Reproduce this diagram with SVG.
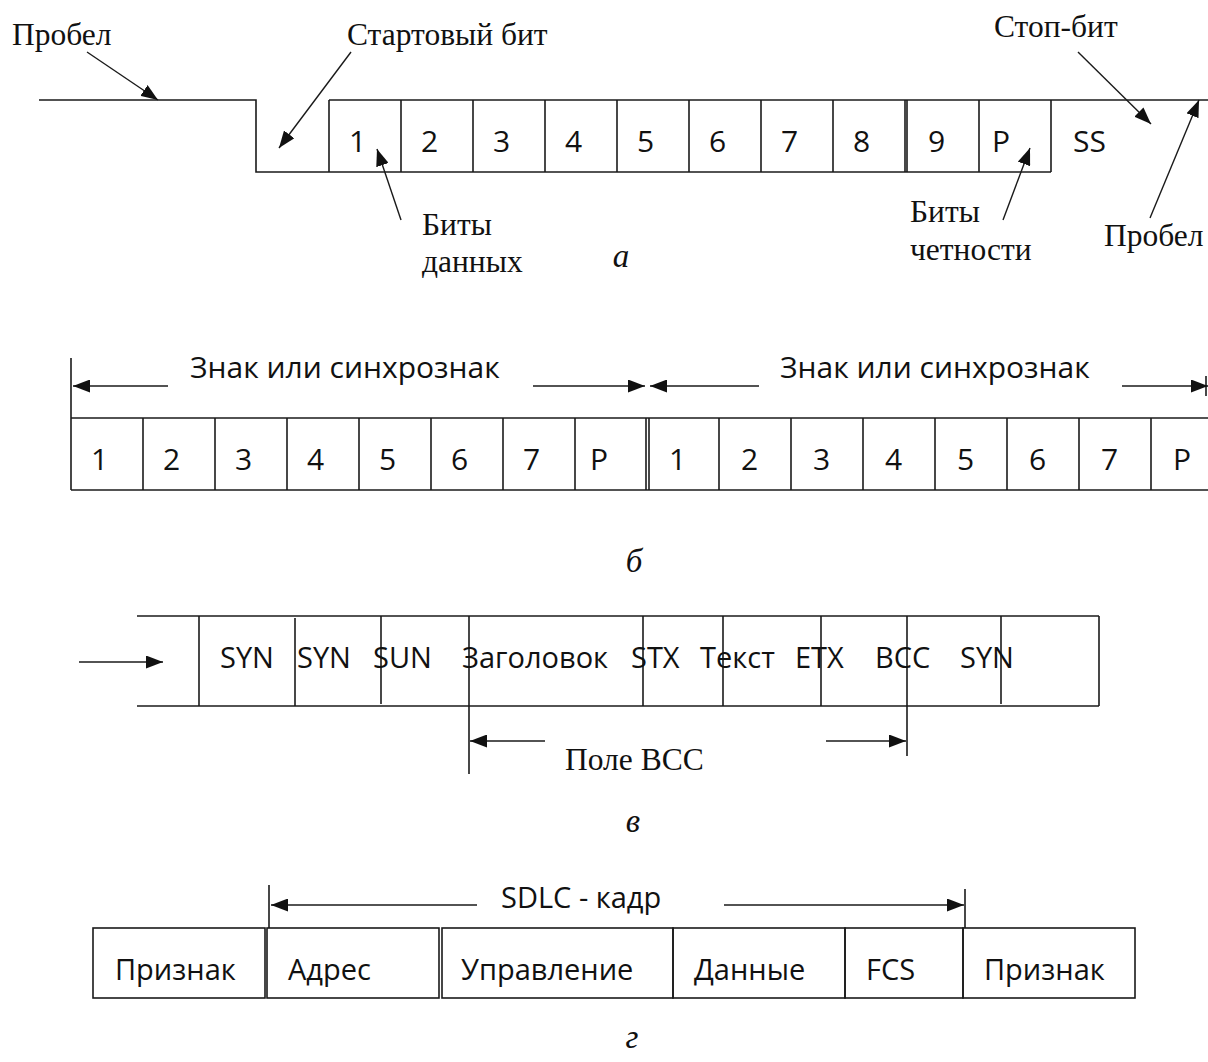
<svg xmlns="http://www.w3.org/2000/svg" width="1208" height="1062" viewBox="0 0 1208 1062">
<style>
.ln{stroke:#1a1a1a;stroke-width:1.6;fill:none}
.bx{stroke:#1a1a1a;stroke-width:1.6;fill:none}
.ar{stroke:#1a1a1a;stroke-width:1.4;fill:none;marker-end:url(#ah)}
.s{font-family:"Open Sans","Noto Sans","DejaVu Sans",sans-serif;font-size:29px;fill:#111}
.d{font-family:"Open Sans","Noto Sans","DejaVu Sans",sans-serif;font-size:30px;fill:#111}
.r{font-family:"Liberation Serif","Times New Roman",serif;font-size:31.5px;fill:#111}
.i{font-family:"Liberation Serif","Times New Roman",serif;font-size:33px;font-style:italic;fill:#111}
</style>
<defs>
<marker id="ah" markerUnits="userSpaceOnUse" markerWidth="17" markerHeight="13" refX="17" refY="6.5" orient="auto">
<path d="M0,0 L17,6.5 L0,13 z" fill="#111"/>
</marker>
</defs>
<rect width="1208" height="1062" fill="#fff"/>

<!-- Section a -->
<g id="a-signal">
<polyline class="ln" points="39,100 256,100 256,172 329,172"/>
<line class="ln" x1="329" y1="100" x2="1208" y2="100"/>
<line class="ln" x1="329" y1="172" x2="1051" y2="172"/>
<line class="ln" x1="329" y1="100" x2="329" y2="172"/>
<line class="ln" x1="401" y1="100" x2="401" y2="172"/>
<line class="ln" x1="473" y1="100" x2="473" y2="172"/>
<line class="ln" x1="545" y1="100" x2="545" y2="172"/>
<line class="ln" x1="617" y1="100" x2="617" y2="172"/>
<line class="ln" x1="689" y1="100" x2="689" y2="172"/>
<line class="ln" x1="761" y1="100" x2="761" y2="172"/>
<line class="ln" x1="833" y1="100" x2="833" y2="172"/>
<line class="ln" x1="905" y1="100" x2="905" y2="172"/>
<line class="ln" x1="907" y1="100" x2="907" y2="172"/>
<line class="ln" x1="979" y1="100" x2="979" y2="172"/>
<line class="ln" x1="1051" y1="100" x2="1051" y2="172"/>
</g>
<g id="a-bits">
<text class="d" x="349" y="152">1</text>
<text class="d" x="421" y="152">2</text>
<text class="d" x="493" y="152">3</text>
<text class="d" x="565" y="152">4</text>
<text class="d" x="637" y="152">5</text>
<text class="d" x="709" y="152">6</text>
<text class="d" x="781" y="152">7</text>
<text class="d" x="853" y="152">8</text>
<text class="d" x="928" y="152">9</text>
<text class="d" x="992" y="152">P</text>
<text class="d" x="1073" y="152">SS</text>
</g>
<g id="a-labels">
<text class="r" x="12" y="45">Пробел</text>
<text class="r" x="347" y="45">Стартовый бит</text>
<text class="r" x="994" y="37">Стоп-бит</text>
<text class="r" x="422" y="235">Биты</text>
<text class="r" x="422" y="272">данных</text>
<text class="r" x="910" y="222">Биты</text>
<text class="r" x="910" y="260">четности</text>
<text class="r" x="1104" y="246">Пробел</text>
<text class="i" x="621" y="267" text-anchor="middle">а</text>
</g>

<!-- Section b -->
<g id="b-frame">
<line class="ln" x1="71" y1="418" x2="1208" y2="418"/>
<line class="ln" x1="71" y1="490" x2="1208" y2="490"/>
<line class="ln" x1="71" y1="358" x2="71" y2="490"/>
<line class="ln" x1="143" y1="418" x2="143" y2="490"/>
<line class="ln" x1="215" y1="418" x2="215" y2="490"/>
<line class="ln" x1="287" y1="418" x2="287" y2="490"/>
<line class="ln" x1="359" y1="418" x2="359" y2="490"/>
<line class="ln" x1="431" y1="418" x2="431" y2="490"/>
<line class="ln" x1="503" y1="418" x2="503" y2="490"/>
<line class="ln" x1="575" y1="418" x2="575" y2="490"/>
<line class="ln" x1="646" y1="418" x2="646" y2="490"/>
<line class="ln" x1="649" y1="418" x2="649" y2="490"/>
<line class="ln" x1="719" y1="418" x2="719" y2="490"/>
<line class="ln" x1="791" y1="418" x2="791" y2="490"/>
<line class="ln" x1="863" y1="418" x2="863" y2="490"/>
<line class="ln" x1="935" y1="418" x2="935" y2="490"/>
<line class="ln" x1="1007" y1="418" x2="1007" y2="490"/>
<line class="ln" x1="1079" y1="418" x2="1079" y2="490"/>
<line class="ln" x1="1151" y1="418" x2="1151" y2="490"/>
<line class="ln" x1="1206" y1="376" x2="1206" y2="396"/>
</g>
<g id="b-bits">
<text class="d" x="91" y="470">1</text>
<text class="d" x="163" y="470">2</text>
<text class="d" x="235" y="470">3</text>
<text class="d" x="307" y="470">4</text>
<text class="d" x="379" y="470">5</text>
<text class="d" x="451" y="470">6</text>
<text class="d" x="523" y="470">7</text>
<text class="d" x="590" y="470">P</text>
<text class="d" x="669" y="470">1</text>
<text class="d" x="741" y="470">2</text>
<text class="d" x="813" y="470">3</text>
<text class="d" x="885" y="470">4</text>
<text class="d" x="957" y="470">5</text>
<text class="d" x="1029" y="470">6</text>
<text class="d" x="1101" y="470">7</text>
<text class="d" x="1173" y="470">P</text>
</g>
<g id="b-labels">
<text class="d" x="190" y="378">Знак или синхрознак</text>
<text class="d" x="780" y="378">Знак или синхрознак</text>
<text class="i" x="634" y="572" text-anchor="middle">б</text>
</g>

<!-- Section c -->
<g id="c-frame">
<line class="ln" x1="137" y1="616" x2="1099" y2="616"/>
<line class="ln" x1="137" y1="706" x2="1099" y2="706"/>
<line class="ln" x1="199" y1="616" x2="199" y2="706"/>
<line class="ln" x1="295" y1="618" x2="295" y2="706"/>
<line class="ln" x1="381" y1="616" x2="381" y2="704"/>
<line class="ln" x1="469" y1="616" x2="469" y2="774"/>
<line class="ln" x1="643" y1="616" x2="643" y2="706"/>
<line class="ln" x1="723" y1="616" x2="723" y2="706"/>
<line class="ln" x1="821" y1="616" x2="821" y2="706"/>
<line class="ln" x1="907" y1="616" x2="907" y2="756"/>
<line class="ln" x1="1001" y1="616" x2="1001" y2="704"/>
<line class="ln" x1="1099" y1="616" x2="1099" y2="706"/>
</g>
<g id="c-fields">
<text class="s" x="220" y="668">SYN</text>
<text class="s" x="297" y="668">SYN</text>
<text class="s" x="373" y="668">SUN</text>
<text class="s" x="462" y="668">Заголовок</text>
<text class="s" x="631" y="668">STX</text>
<text class="s" x="700" y="668">Текст</text>
<text class="s" x="795" y="668">ETX</text>
<text class="s" x="875" y="668">BCC</text>
<text class="s" x="960" y="668">SYN</text>
</g>
<g id="c-labels">
<text class="r" x="565" y="770">Поле BCC</text>
<text class="i" x="633" y="832" text-anchor="middle">в</text>
</g>

<!-- Section d -->
<g id="d-priznak1"><rect class="bx" x="93" y="928" width="172" height="70"/><text class="s" x="115" y="980">Признак</text></g>
<g id="d-adres"><rect class="bx" x="267" y="928" width="172" height="70"/><text class="s" x="288" y="980">Адрес</text></g>
<g id="d-upravlenie"><rect class="bx" x="442" y="928" width="231" height="70"/><text class="s" x="461" y="980">Управление</text></g>
<g id="d-dannye"><rect class="bx" x="673" y="928" width="172" height="70"/><text class="s" x="694" y="980">Данные</text></g>
<g id="d-fcs"><rect class="bx" x="845" y="928" width="118" height="70"/><text class="s" x="866" y="980">FCS</text></g>
<g id="d-priznak2"><rect class="bx" x="963" y="928" width="172" height="70"/><text class="s" x="984" y="980">Признак</text></g>
<g id="d-labels">
<line class="ln" x1="269" y1="885" x2="269" y2="928"/>
<line class="ln" x1="965" y1="889" x2="965" y2="928"/>
<text class="s" x="501" y="908">SDLC - кадр</text>
<text class="i" x="632" y="1048" text-anchor="middle">г</text>
</g>

<!-- Connectors -->
<g id="connectors">
<line class="ar" x1="87" y1="52" x2="158" y2="100"/>
<line class="ar" x1="351" y1="52" x2="279" y2="148"/>
<line class="ar" x1="401" y1="220" x2="377" y2="149"/>
<line class="ar" x1="1078" y1="52" x2="1151" y2="124"/>
<line class="ar" x1="1150" y1="218" x2="1199" y2="100"/>
<line class="ar" x1="1003" y1="220" x2="1030" y2="148"/>
<line class="ar" x1="168" y1="386" x2="73" y2="386"/>
<line class="ar" x1="533" y1="386" x2="645" y2="386"/>
<line class="ar" x1="759" y1="386" x2="650" y2="386"/>
<line class="ar" x1="1122" y1="386" x2="1208" y2="386"/>
<line class="ar" x1="79" y1="662" x2="163" y2="662"/>
<line class="ar" x1="545" y1="741" x2="470" y2="741"/>
<line class="ar" x1="826" y1="741" x2="906" y2="741"/>
<line class="ar" x1="477" y1="905" x2="271" y2="905"/>
<line class="ar" x1="724" y1="905" x2="964" y2="905"/>
</g>
</svg>
